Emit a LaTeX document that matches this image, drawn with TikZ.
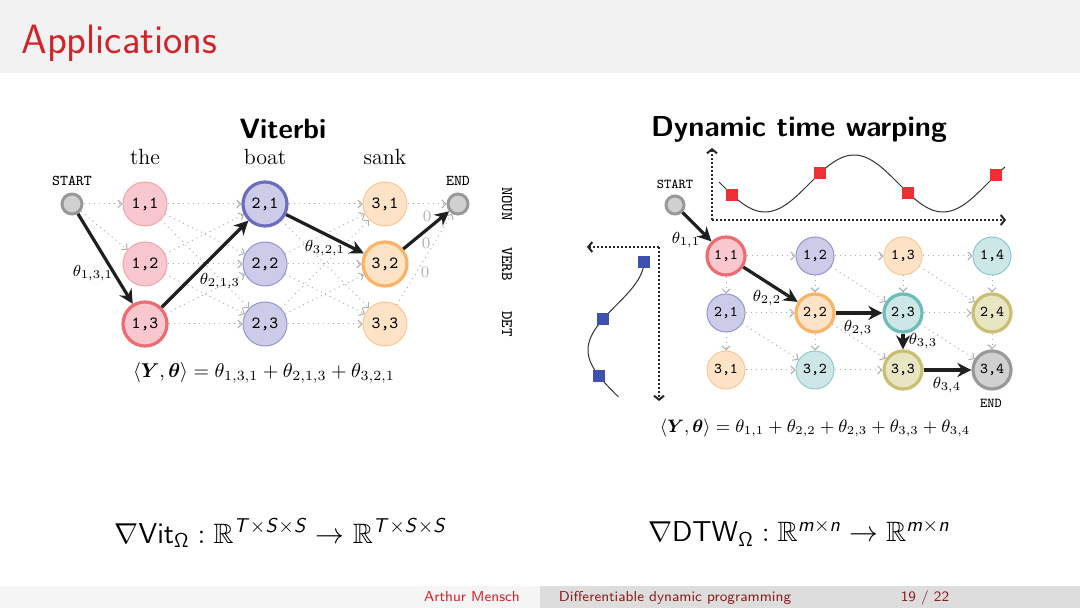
\documentclass[tikz,border=0pt]{standalone}
\usepackage{amsmath,amssymb,bm}
\usetikzlibrary{arrows.meta}
\DeclareMathAlphabet{\mathsfit}{OT1}{cmss}{m}{sl}
\definecolor{hdr}{HTML}{F2F2F2}
\definecolor{titred}{HTML}{D2232A}
\definecolor{footL}{HTML}{F5F5F5}
\definecolor{footR}{HTML}{DDDDDD}
\definecolor{footdark}{HTML}{8A1F1F}
\definecolor{redF}{HTML}{F8C8CE}
\definecolor{redL}{HTML}{F3A3AA}
\definecolor{redS}{HTML}{EE6B73}
\definecolor{bluF}{HTML}{CDCCE8}
\definecolor{bluL}{HTML}{9494D2}
\definecolor{bluS}{HTML}{6C6CC0}
\definecolor{orF}{HTML}{FEE3C6}
\definecolor{orL}{HTML}{FBC894}
\definecolor{orS}{HTML}{FBB366}
\definecolor{teaF}{HTML}{CDE6E6}
\definecolor{teaL}{HTML}{90CCCC}
\definecolor{teaS}{HTML}{6CBCBC}
\definecolor{oliF}{HTML}{E8E5C2}
\definecolor{oliS}{HTML}{C8C070}
\definecolor{gryF}{HTML}{D0D0D0}
\definecolor{gryS}{HTML}{999999}
\definecolor{sqred}{HTML}{EE3035}
\definecolor{sqblue}{HTML}{3F51B0}
\tikzset{
  cell/.style={circle, minimum size=22pt, inner sep=0pt, draw, line width=0.5pt,
    font=\ttfamily\fontsize{8.5}{9}\selectfont},
  dcell/.style={cell, minimum size=19pt, font=\ttfamily\fontsize{7.5}{8}\selectfont},
  sel/.style={line width=1.6pt},
  rc/.style={fill=redF, draw=redL}, rs/.style={fill=redF, draw=redS, sel},
  bc/.style={fill=bluF, draw=bluL}, bs/.style={fill=bluF, draw=bluS, sel},
  oc/.style={fill=orF, draw=orL}, os/.style={fill=orF, draw=orS, sel},
  tc/.style={fill=teaF, draw=teaL}, ts/.style={fill=teaF, draw=teaS, sel},
  ls/.style={fill=oliF, draw=oliS, sel},
  gs/.style={fill=gryF, draw=gryS, sel},
  term/.style={circle, inner sep=0pt, minimum size=10pt, fill=gryF, draw=gryS, line width=1.5pt},
  dedge/.style={draw=gray!65, dotted, line width=0.5pt, -{Straight Barb[length=2pt,width=4pt]}},
  bedge/.style={draw=black!88, line width=1.6pt, -{Stealth[length=7pt,width=7pt]}},
  axisline/.style={draw=black!85, line width=1pt, dash pattern=on 1pt off 1pt, -{Straight Barb[length=2pt,width=5pt]}},
  tiny tt/.style={font=\ttfamily\fontsize{7.5}{8}\selectfont},
  lab/.style={font=\fontsize{8}{9}\selectfont},
  rsq/.style={rectangle, inner sep=0pt, minimum size=6pt, fill=sqred},
  bsq/.style={rectangle, inner sep=0pt, minimum size=6pt, fill=sqblue},
  foot/.style={anchor=base, font=\sffamily\fontsize{7.2}{8}\selectfont},
}
\begin{document}
\begin{tikzpicture}[x=0.5pt,y=-0.5pt]
\useasboundingbox (0,0) rectangle (1080,608);
\fill[white] (0,0) rectangle (1080,608);
% header
\fill[hdr] (0,0) rectangle (1080,73);
\node[anchor=base west, inner sep=0pt, text=titred, font=\sffamily\fontsize{20.5}{24}\selectfont] (title) at (21,54) {Applications};
% footer
\fill[footL] (0,586) rectangle (540,608);
\fill[footR] (540,586) rectangle (1080,608);
\node[foot, text=titred] (fa) at (472,601) {Arthur Mensch};
\node[foot, text=footdark] (fb) at (675,601) {Differentiable dynamic programming};
\node[foot, text=footdark] (fc) at (925,601) {19 / 22};

% ================= Viterbi =================
\node[font=\sffamily\bfseries\fontsize{14}{16}\selectfont] (vt) at (283,129) {Viterbi};
\node[font=\fontsize{11}{12}\selectfont] (w1) at (145,157) {the};
\node[font=\fontsize{11}{12}\selectfont] (w2) at (265,157) {boat};
\node[font=\fontsize{11}{12}\selectfont] (w3) at (385,157) {sank};

\node[term] (S) at (72,204) {};
\node[tiny tt] (Sl) at (72,181) {START};
\node[term] (E) at (458,204) {};
\node[tiny tt] (El) at (458,181) {END};

\node[cell,rc] (v11) at (145,204) {1,1};
\node[cell,rc] (v12) at (145,264) {1,2};
\node[cell,rs] (v13) at (145,324) {1,3};
\node[cell,bs] (v21) at (265,204) {2,1};
\node[cell,bc] (v22) at (265,264) {2,2};
\node[cell,bc] (v23) at (265,324) {2,3};
\node[cell,oc] (v31) at (385,204) {3,1};
\node[cell,os] (v32) at (385,264) {3,2};
\node[cell,oc] (v33) at (385,324) {3,3};

\node[rotate=-90, font=\ttfamily\fontsize{8}{9}\selectfont] (rn) at (507,204) {NOUN};
\node[rotate=-90, font=\ttfamily\fontsize{8}{9}\selectfont] (rv) at (507,264) {VERB};
\node[rotate=-90, font=\ttfamily\fontsize{8}{9}\selectfont] (rd) at (507,324) {DET};

\draw[dedge] (S) -- (v11);
\draw[dedge] (S) -- (v12);
\foreach \a/\b in {1/1,1/2,1/3,2/1,2/2,2/3,3/2,3/3}
  \draw[dedge] (v1\a) -- (v2\b);
\foreach \a/\b in {1/1,1/3,2/1,2/2,2/3,3/1,3/2,3/3}
  \draw[dedge] (v2\a) -- (v3\b);
\draw[dedge] (v31) -- (E);
\draw[dedge] (v33) -- (E);

\draw[bedge] (S) -- (v13);
\draw[bedge] (v13) -- (v21);
\draw[bedge] (v21) -- (v32);
\draw[bedge] (v32) -- (E);

\node[lab] (l1) at (93,273) {$\theta_{1,3,1}$};
\node[lab] (l2) at (220,281) {$\theta_{2,1,3}$};
\node[lab] (l3) at (325,248) {$\theta_{3,2,1}$};
\node[lab, text=gray!60] (z1) at (427,216) {0};
\node[lab, text=gray!60] (z2) at (426,243) {0};
\node[lab, text=gray!60] (z3) at (425,272) {0};

\node[font=\fontsize{10.3}{11}\selectfont] (veq) at (264,373)
  {$\langle \bm{Y}, \bm{\theta} \rangle = \theta_{1,3,1} + \theta_{2,1,3} + \theta_{3,2,1}$};

\node[font=\sffamily\fontsize{14}{16}\selectfont] (vf) at (281,533)
  {$\nabla \mathsf{Vit}_{\mathsf{\Omega}} : \mathbb{R}^{\mathsfit{T}\times \mathsfit{S}\times \mathsfit{S}} \to \mathbb{R}^{\mathsfit{T}\times \mathsfit{S}\times \mathsfit{S}}$};

% ================= DTW =================
\node[font=\sffamily\bfseries\fontsize{14.4}{16}\selectfont] (dt) at (799,129) {Dynamic time warping};

% top signal
\coordinate (ta0) at (712,220);
\coordinate (tay) at (712,148);
\coordinate (tax) at (1006,220);
\draw[axisline] (ta0) -- (tay);
\draw[axisline] (ta0) -- (tax);
\draw[black!80, line width=0.5pt] plot[domain=719:1005, samples=90, smooth]
  (\x, {183.5+28.5*cos(2.02247*(\x-765))});
\node[rsq] (r1) at (732,194.8) {};
\node[rsq] (r2) at (820,173.2) {};
\node[rsq] (r3) at (908,192.9) {};
\node[rsq] (r4) at (996,175) {};

% left signal
\coordinate (la0) at (659,247);
\coordinate (lax) at (587,247);
\coordinate (lay) at (659,401);
\draw[axisline] (la0) -- (lax);
\draw[axisline] (la0) -- (lay);
\draw[black!80, line width=0.5pt] plot[domain=262:397, samples=70, smooth]
  ({616-28*cos(2.02247*(\x-350))}, \x);
\node[bsq] (b1) at (644,262) {};
\node[bsq] (b2) at (603,319) {};
\node[bsq] (b3) at (599,376) {};

% grid
\node[term, minimum size=9pt] (S2) at (675,205) {};
\node[tiny tt, font=\ttfamily\fontsize{6.8}{7}\selectfont] (S2l) at (675,184) {START};
\node[dcell,rs] (d11) at (726,256) {1,1};
\node[dcell,bc] (d12) at (815,256) {1,2};
\node[dcell,oc] (d13) at (903,256) {1,3};
\node[dcell,tc] (d14) at (992,256) {1,4};
\node[dcell,bc] (d21) at (726,313) {2,1};
\node[dcell,os] (d22) at (815,313) {2,2};
\node[dcell,ts] (d23) at (903,313) {2,3};
\node[dcell,ls] (d24) at (992,313) {2,4};
\node[dcell,oc] (d31) at (726,370) {3,1};
\node[dcell,tc] (d32) at (815,370) {3,2};
\node[dcell,ls] (d33) at (903,370) {3,3};
\node[dcell,gs] (d34) at (992,370) {3,4};
\node[tiny tt, font=\ttfamily\fontsize{6.8}{7}\selectfont] (E2l) at (991,403) {END};

\foreach \p/\q in {11/12,12/13,13/14,21/22,23/24,31/32,32/33,
                   11/21,21/31,12/22,22/32,13/23,14/24,24/34,
                   12/23,13/24,21/32,22/33,23/34}
  \draw[dedge] (d\p) -- (d\q);

\draw[bedge] (S2) -- (d11);
\draw[bedge] (d11) -- (d22);
\draw[bedge] (d22) -- (d23);
\draw[bedge] (d23) -- (d33);
\draw[bedge] (d33) -- (d34);

\node[lab] (m1) at (686,240) {$\theta_{1,1}$};
\node[lab] (m2) at (767,298) {$\theta_{2,2}$};
\node[lab] (m3) at (858,328) {$\theta_{2,3}$};
\node[lab] (m4) at (923,341) {$\theta_{3,3}$};
\node[lab] (m5) at (947,385) {$\theta_{3,4}$};

\node[font=\fontsize{8.8}{10}\selectfont] (deq) at (815,428)
  {$\langle \bm{Y}, \bm{\theta} \rangle = \theta_{1,1} + \theta_{2,2} + \theta_{2,3} + \theta_{3,3} + \theta_{3,4}$};

\node[font=\sffamily\fontsize{14}{16}\selectfont] (df) at (799,533)
  {$\nabla \mathsf{DTW}_{\mathsf{\Omega}} : \mathbb{R}^{\mathsfit{m}\times \mathsfit{n}} \to \mathbb{R}^{\mathsfit{m}\times \mathsfit{n}}$};
\end{tikzpicture}
\end{document}
